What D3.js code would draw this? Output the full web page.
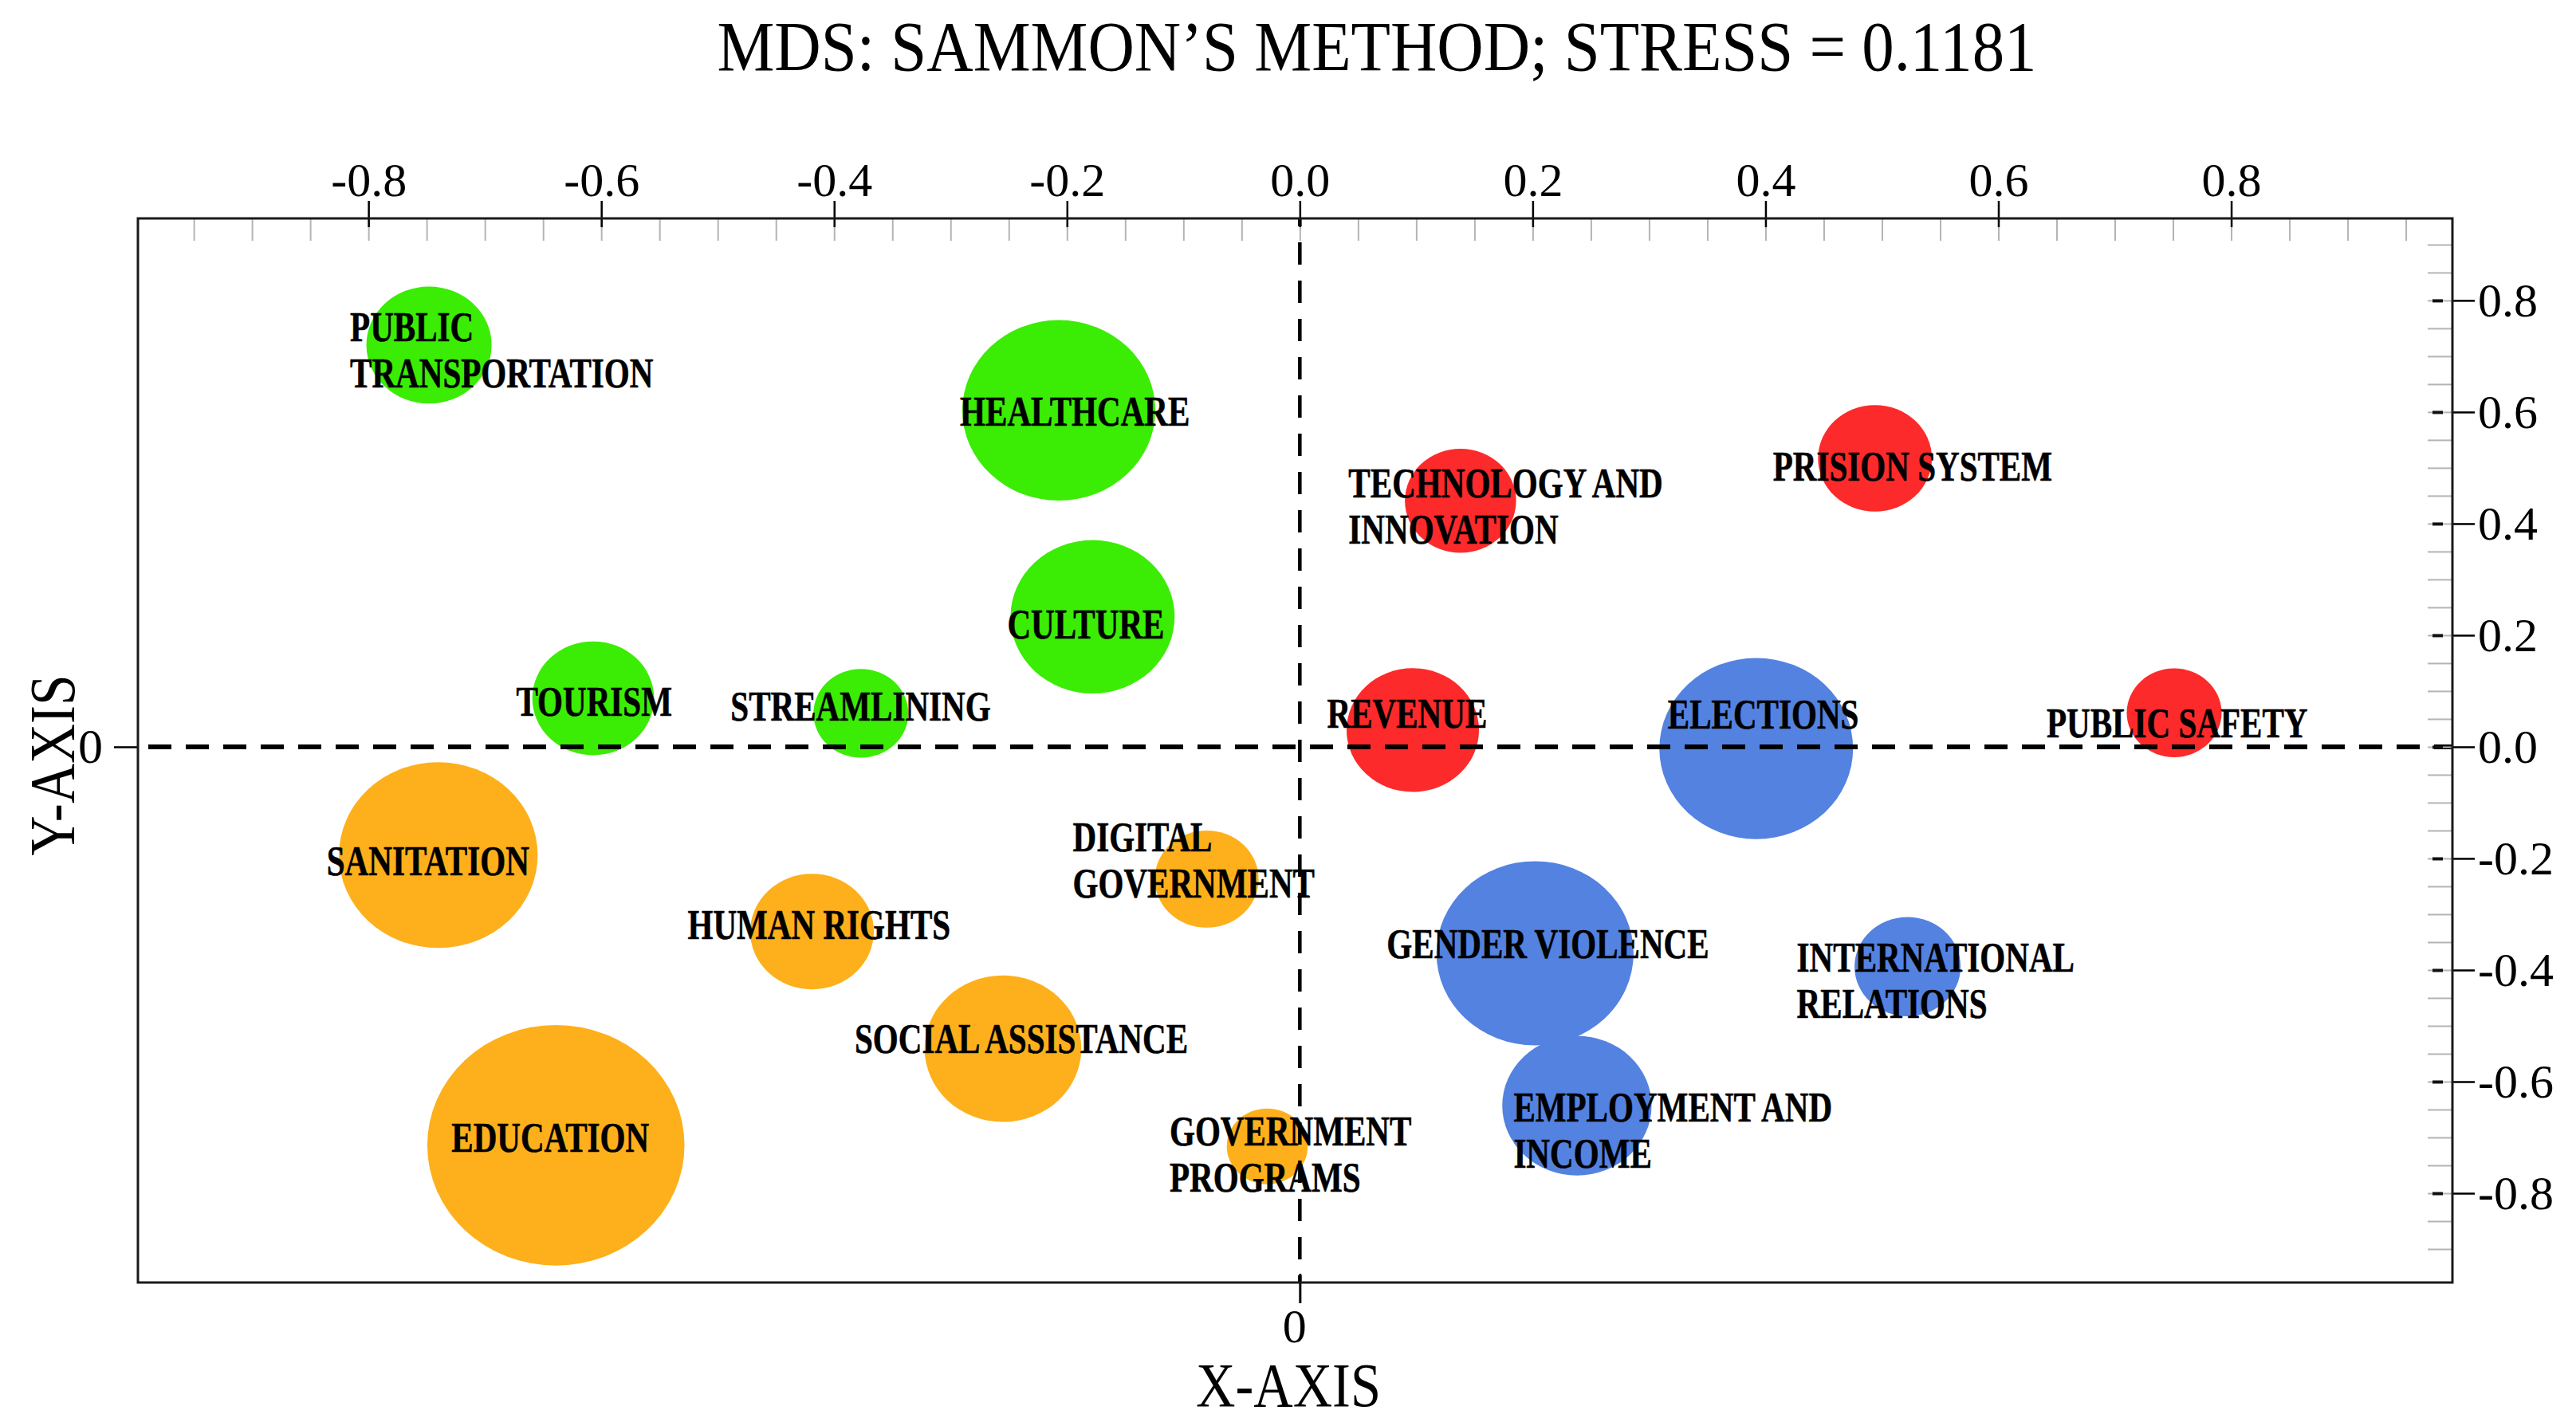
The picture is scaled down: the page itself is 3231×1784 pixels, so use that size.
<!DOCTYPE html>
<html>
<head>
<meta charset="utf-8">
<script src="https://cdn.jsdelivr.net/npm/d3@7"></script>
<style>
  html, body { margin: 0; padding: 0; background: #fff; }
  svg { display: block; }
</style>
</head>
<body>
<svg id="chart" width="3231" height="1784"></svg>
<script>
// ---------------- DATA ----------------
const categories = [
  "PUBLIC\nTRANSPORTATION", "HEALTHCARE", "CULTURE", "TOURISM", "STREAMLINING",
  "TECHNOLOGY AND\nINNOVATION", "PRISION SYSTEM", "REVENUE", "ELECTIONS", "PUBLIC SAFETY",
  "GENDER VIOLENCE", "EMPLOYMENT AND\nINCOME", "INTERNATIONAL\nRELATIONS",
  "SANITATION", "HUMAN RIGHTS", "DIGITAL\nGOVERNMENT", "SOCIAL ASSISTANCE", "EDUCATION",
  "GOVERNMENT\nPROGRAMS"
];
const xValues = [-0.748, -0.207, -0.178, -0.607, -0.377,
                 0.138, 0.494, 0.097, 0.392, 0.751,
                 0.202, 0.238, 0.522,
                 -0.740, -0.419, -0.080, -0.255, -0.639, -0.028];
const yValues = [0.720, 0.603, 0.233, 0.087, 0.060,
                 0.441, 0.517, 0.030, -0.003, 0.061,
                 -0.370, -0.643, -0.394,
                 -0.194, -0.331, -0.237, -0.541, -0.714, -0.716];
const sizeValues = [23.7, 56.3, 40.7, 22.4, 13.6,
                    18.7, 19.6, 26.5, 56.7, 13.6,
                    58.7, 33.7, 17.0,
                    59.7, 23.1, 16.3, 37.1, 100, 9.9];
const groups = ["g", "g", "g", "g", "g",
                "r", "r", "r", "b", "r",
                "b", "b", "b",
                "o", "o", "o", "o", "o", "o"];
const xTickLabels = [-0.8, -0.6, -0.4, -0.2, 0.0, 0.2, 0.4, 0.6, 0.8];
const yTickLabels = [0.8, 0.6, 0.4, 0.2, 0.0, -0.2, -0.4, -0.6, -0.8];
const xMinorTicks = d3.range(-19, 20).map(i => i * 0.05);
const yMinorTicks = d3.range(-18, 19).map(i => i * 0.05);
const titleText = "MDS: SAMMON\u2019S METHOD; STRESS = 0.1181";
const xAxisTitle = "X-AXIS";
const yAxisTitle = "Y-AXIS";

// ---------------- LAYOUT / STYLE ----------------
const colors = { g: "#3bec05", r: "#fc2a2a", b: "#5482e0", o: "#fdb01b" };
// label offsets (px) from bubble centre: left edge, first-line cap centre
const labelOffsets = [
  [-99, -22], [-124, 2], [-107, 10], [-96.5, 4], [-163.5, -8],
  [-140.5, -22], [-128, 10], [-107.5, -20], [-111, -43], [-160, 13],
  [-186, -11], [-79.5, 2], [-139, -11],
  [-140, 8], [-156, -8], [-168, -52], [-186, -12], [-131, -9], [-122.5, -19]
];
const frame = { left: 173, right: 3076, top: 274, bottom: 1609 };
const serif = "'Liberation Serif', 'Times New Roman', serif";

const svg = d3.select("#chart");

const x = d3.scaleLinear().domain([-0.998, 0.99]).range([frame.left, frame.right]);
const y = d3.scaleLinear().domain([-0.96, 0.947]).range([frame.bottom, frame.top]);
const r = d3.scaleSqrt().domain([0, 100]).range([0, 156]);
const aspect = 1.034;

const data = categories.map((c, i) => ({
  name: c, x: xValues[i], y: yValues[i], size: sizeValues[i], group: groups[i], off: labelOffsets[i]
}));

// ---------------- BUBBLES ----------------
svg.append("g").selectAll("ellipse").data(data).join("ellipse")
  .attr("cx", d => x(d.x))
  .attr("cy", d => y(d.y))
  .attr("rx", d => r(d.size) * aspect)
  .attr("ry", d => r(d.size) / aspect)
  .attr("fill", d => colors[d.group]);

// ---------------- ZERO DASHED LINES ----------------
svg.append("line")
  .attr("x1", frame.left).attr("x2", frame.right)
  .attr("y1", y(0)).attr("y2", y(0))
  .attr("stroke", "#000").attr("stroke-width", 6)
  .attr("stroke-dasharray", "29,18").attr("stroke-dashoffset", 34);
svg.append("line")
  .attr("x1", x(0)).attr("x2", x(0))
  .attr("y1", frame.top).attr("y2", frame.bottom)
  .attr("stroke", "#000").attr("stroke-width", 4.5)
  .attr("stroke-dasharray", "28,20").attr("stroke-dashoffset", 18);

// ---------------- AXES ----------------
function cleanAxis(g) { g.select(".domain").remove(); }
const fmt = v => (Math.abs(v) < 1e-9 ? 0 : v).toFixed(1);

// top minor ticks (inside, grey)
svg.append("g").attr("transform", `translate(0,${frame.top})`)
  .call(d3.axisTop(x).tickValues(xMinorTicks).tickSize(-28).tickFormat(""))
  .call(cleanAxis)
  .call(g => g.selectAll("line").attr("stroke", "#b4b4b4").attr("stroke-width", 2));
// top major ticks + labels
svg.append("g").attr("transform", `translate(0,${frame.top})`)
  .call(d3.axisTop(x).tickValues(xTickLabels).tickSize(22).tickPadding(6).tickFormat(fmt))
  .call(cleanAxis)
  .call(g => g.selectAll("line").attr("stroke", "#000").attr("stroke-width", 2.5).attr("y2", -22).attr("y1", 11))
  .call(g => g.selectAll("text").attr("font-family", serif).attr("font-size", 60).attr("fill", "#000"));

// right minor ticks
svg.append("g").attr("transform", `translate(${frame.right},0)`)
  .call(d3.axisRight(y).tickValues(yMinorTicks).tickSize(-31).tickFormat(""))
  .call(cleanAxis)
  .call(g => g.selectAll("line").attr("stroke", "#b4b4b4").attr("stroke-width", 2));
// right major ticks + labels
svg.append("g").attr("transform", `translate(${frame.right},0)`)
  .call(d3.axisRight(y).tickValues(yTickLabels).tickSize(28).tickPadding(4).tickFormat(fmt))
  .call(cleanAxis)
  .call(g => g.selectAll("line").attr("stroke", "#000").attr("stroke-width", 2.5))
  .call(g => g.selectAll(".tick").append("line")
      .attr("x1", -25).attr("x2", -12).attr("stroke", "#111").attr("stroke-width", 4))
  .call(g => g.selectAll("text").attr("font-family", serif).attr("font-size", 60).attr("fill", "#000"));

// left zero tick
svg.append("g").attr("transform", `translate(${frame.left},0)`)
  .call(d3.axisLeft(y).tickValues([0]).tickSize(30).tickPadding(14).tickFormat(d3.format("d")))
  .call(cleanAxis)
  .call(g => g.selectAll("line").attr("stroke", "#000").attr("stroke-width", 2.5))
  .call(g => g.selectAll("text").attr("font-family", serif).attr("font-size", 62).attr("fill", "#000"));

// bottom zero tick
svg.append("g").attr("transform", `translate(0,${frame.bottom})`)
  .call(d3.axisBottom(x).tickValues([0]).tickSize(26).tickPadding(6).tickFormat(d3.format("d")))
  .call(cleanAxis)
  .call(g => g.selectAll("line").attr("stroke", "#000").attr("stroke-width", 3).attr("y1", -11))
  .call(g => g.selectAll("text").attr("font-family", serif).attr("font-size", 60).attr("fill", "#000")
      .attr("dx", -7));

// frame
svg.append("rect")
  .attr("x", frame.left).attr("y", frame.top)
  .attr("width", frame.right - frame.left).attr("height", frame.bottom - frame.top)
  .attr("fill", "none").attr("stroke", "#1a1a1a").attr("stroke-width", 3);

// ---------------- LABELS ----------------
const capH = 35, lineGap = 58;
const lab = svg.append("g").selectAll("g").data(data).join("g")
  .attr("transform", d => `translate(${x(d.x) + d.off[0]},${y(d.y) + d.off[1] + capH / 2}) scale(0.775,1)`);
lab.each(function(d) {
  const g = d3.select(this);
  d.name.split("\n").forEach((line, i) => {
    g.append("text")
      .attr("x", 0).attr("y", i * lineGap)
      .attr("font-family", serif).attr("font-weight", "bold")
      .attr("font-size", 53).attr("fill", "#000")
      .attr("stroke", "#000").attr("stroke-width", 0.6)
      .text(line);
  });
});

// ---------------- TITLES ----------------
svg.append("text")
  .attr("x", 1727).attr("y", 88)
  .attr("text-anchor", "middle")
  .attr("font-family", serif).attr("font-size", 88)
  .attr("textLength", 1655).attr("lengthAdjust", "spacingAndGlyphs")
  .text(titleText);

svg.append("text")
  .attr("x", 1616).attr("y", 1764)
  .attr("text-anchor", "middle")
  .attr("font-family", serif).attr("font-size", 78)
  .attr("textLength", 232).attr("lengthAdjust", "spacingAndGlyphs")
  .text(xAxisTitle);

svg.append("text")
  .attr("transform", "translate(93,960) rotate(-90)")
  .attr("text-anchor", "middle")
  .attr("font-family", serif).attr("font-size", 80)
  .attr("textLength", 227).attr("lengthAdjust", "spacingAndGlyphs")
  .text(yAxisTitle);
</script>
</body>
</html>
